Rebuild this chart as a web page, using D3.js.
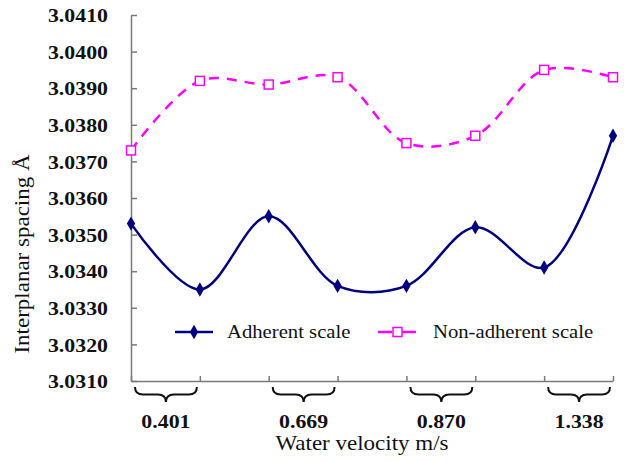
<!DOCTYPE html>
<html>
<head>
  <style>
    body { margin: 0; background: #fff; }
  </style>
</head>
<body>
  <div id="chart"></div>

  <script src="https://d3js.org/d3.v7.min.js"></script>
  <script>
    // data
    const points = ["p1", "p2", "p3", "p4", "p5", "p6", "p7", "p8"];
    const velocities = ["0.401", "0.669", "0.870", "1.338"];
    const adherent = [3.0353, 3.0335, 3.0355, 3.0336, 3.0336, 3.0352, 3.0341, 3.0377];
    const nonAdherent = [3.0373, 3.0392, 3.0391, 3.0393, 3.0375, 3.0377, 3.0395, 3.0393];
    const yTicks = [3.031, 3.032, 3.033, 3.034, 3.035, 3.036, 3.037, 3.038, 3.039, 3.040, 3.041];

    const width = 632, height = 462;
    const stretch = 1.15; // the source picture is stretched sideways
    const serif = "'Liberation Serif', 'Times New Roman', Times, serif";

    const svg = d3.select("#chart").append("svg")
      .attr("width", width)
      .attr("height", height);

    const x = d3.scalePoint().domain(points).range([131, 613]);
    const y = d3.scaleLinear().domain([3.031, 3.041]).range([381, 15]);

    // y axis
    const gy = svg.append("g")
      .attr("transform", "translate(131,0)")
      .call(d3.axisLeft(y).tickValues(yTicks).tickSize(-6).tickSizeOuter(0).tickFormat(d3.format(".4f")));
    gy.attr("font-family", null).attr("font-size", null);
    gy.selectAll("text")
      .attr("x", 0)
      .attr("dy", "0.35em")
      .attr("transform", `translate(-23,0) scale(${stretch},1)`)
      .attr("font-family", serif)
      .attr("font-size", 19)
      .attr("font-weight", "bold")
      .attr("fill", "#111");

    // x axis
    svg.append("g")
      .attr("transform", "translate(0,381)")
      .call(d3.axisBottom(x).tickSize(-5).tickSizeOuter(0).tickFormat(""));

    svg.selectAll(".domain, .tick line")
      .attr("stroke", "#7a7a7a")
      .attr("stroke-width", 1.5);

    // braces under each pair of points
    function brace(x1, x2, y0, h) {
      const xm = (x1 + x2) / 2, ym = y0 + h / 2, q = 8;
      return `M${x1},${y0} Q${x1},${ym} ${x1 + q},${ym} L${xm - q},${ym} Q${xm},${ym} ${xm},${y0 + h}` +
        ` Q${xm},${ym} ${xm + q},${ym} L${x2 - q},${ym} Q${x2},${ym} ${x2},${y0}`;
    }
    velocities.forEach((v, i) => {
      const x1 = x(points[2 * i]) + 4, x2 = x(points[2 * i + 1]) - 3;
      svg.append("path")
        .attr("d", brace(x1, x2, 387, 15))
        .attr("fill", "none")
        .attr("stroke", "#111")
        .attr("stroke-width", 2);
      svg.append("text")
        .attr("transform", `translate(${(x1 + x2) / 2},428) scale(${stretch},1)`)
        .attr("text-anchor", "middle")
        .attr("font-family", serif)
        .attr("font-size", 19)
        .attr("font-weight", "bold")
        .attr("fill", "#111")
        .text(v);
    });

    // axis titles
    svg.append("text")
      .attr("transform", `translate(362,450) scale(${stretch},1)`)
      .attr("text-anchor", "middle")
      .attr("font-family", serif)
      .attr("font-size", 20)
      .attr("fill", "#111")
      .text("Water velocity  m/s");

    svg.append("text")
      .attr("transform", `translate(29,254) rotate(-90) scale(${stretch},1)`)
      .attr("text-anchor", "middle")
      .attr("font-family", serif)
      .attr("font-size", 20)
      .attr("fill", "#111")
      .text("Interplanar spacing Å");

    // lines
    const line = d3.line()
      .x((d, i) => x(points[i]))
      .y(d => y(d))
      .curve(d3.curveCatmullRom.alpha(0.5));

    svg.append("path")
      .datum(nonAdherent)
      .attr("d", line)
      .attr("fill", "none")
      .attr("stroke", "#ff00ff")
      .attr("stroke-width", 2.5)
      .attr("stroke-dasharray", "10,8");

    svg.append("path")
      .datum(adherent)
      .attr("d", line)
      .attr("fill", "none")
      .attr("stroke", "#000080")
      .attr("stroke-width", 2.5);

    const diamond = d3.symbol().type(d3.symbolDiamond).size(60);

    svg.selectAll(".sq")
      .data(nonAdherent)
      .join("rect")
      .attr("x", (d, i) => x(points[i]) - 4.5)
      .attr("y", d => y(d) - 4.5)
      .attr("width", 9)
      .attr("height", 9)
      .attr("fill", "#fff")
      .attr("stroke", "#ff00ff")
      .attr("stroke-width", 1.5);

    svg.selectAll(".dm")
      .data(adherent)
      .join("path")
      .attr("d", diamond)
      .attr("transform", (d, i) => `translate(${x(points[i])},${y(d)})`)
      .attr("fill", "#000080");

    // legend
    const leg = svg.append("g");
    leg.append("line").attr("x1", 175).attr("x2", 213).attr("y1", 332).attr("y2", 332)
      .attr("stroke", "#000080").attr("stroke-width", 2.5);
    leg.append("path").attr("d", diamond).attr("transform", "translate(194,332)").attr("fill", "#000080");
    leg.append("text")
      .attr("transform", `translate(227,338) scale(${stretch},1)`)
      .attr("font-family", serif)
      .attr("font-size", 18).attr("fill", "#111")
      .text("Adherent scale");

    leg.append("line").attr("x1", 378).attr("x2", 418).attr("y1", 332).attr("y2", 332)
      .attr("stroke", "#ff00ff").attr("stroke-width", 2.5).attr("stroke-dasharray", "14,10");
    leg.append("rect").attr("x", 393).attr("y", 327.5).attr("width", 9).attr("height", 9)
      .attr("fill", "#fff").attr("stroke", "#ff00ff").attr("stroke-width", 1.5);
    leg.append("text")
      .attr("transform", `translate(433,338) scale(${stretch},1)`)
      .attr("font-family", serif)
      .attr("font-size", 18).attr("fill", "#111")
      .text("Non-adherent scale");
  </script>
</body>
</html>
